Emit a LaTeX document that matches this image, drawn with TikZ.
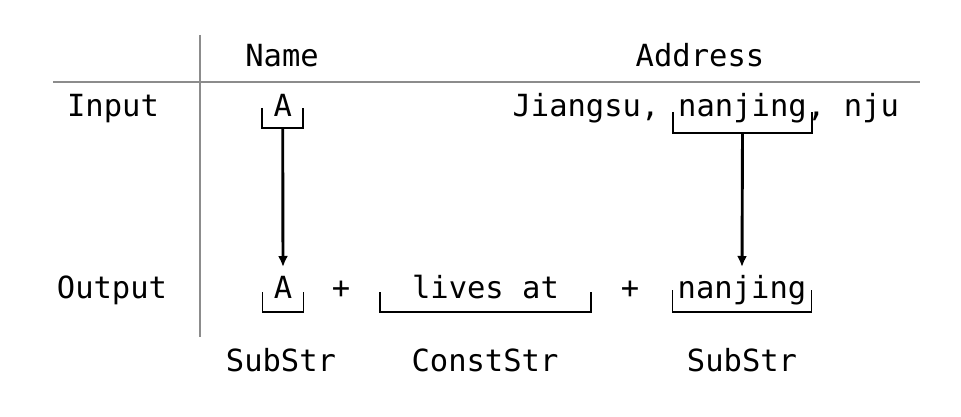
\documentclass[tikz,border=0pt]{standalone}
\usepackage{fontspec}
\setmonofont{DejaVu Sans Mono}
\usetikzlibrary{arrows.meta}
\definecolor{rulegray}{gray}{0.55}
\begin{document}
\begin{tikzpicture}[x=1pt, y=-1pt,
    every node/.style={font=\ttfamily\fontsize{30.5}{36}\selectfont, anchor=base, inner sep=0pt},
    rule/.style={rulegray, line width=2pt},
    brace/.style={black, line width=1.7pt},
    arrow/.style={black, line width=2.9pt, -{Latex[length=11pt, width=10pt]}}]
    \useasboundingbox (0,0) rectangle (961,417);

    % table rules
    \coordinate (vtop) at (200,35);
    \coordinate (vbot) at (200,337);
    \coordinate (hleft) at (53,82);
    \coordinate (hright) at (920,82);
    \draw[rule] (vtop) -- (vbot);
    \draw[rule] (hleft) -- (hright);

    % headers
    \node (name) at (282,67) {Name};
    \node (addr) at (700,67) {Address};
    \node (input) at (113,117) {Input};
    \node (output) at (112,298) {Output};

    % input row
    \node (aIn) at (282.7,117) {A};
    \node (nanjIn) at (742.5,117) {nanjing};
    \node[anchor=base east] (jiangsu) at ([xshift=-18.4pt]nanjIn.base west) {Jiangsu,};
    \node[anchor=base west] (nju) at (nanjIn.base east) {, nju};

    % output row
    \node (aOut) at (283,298) {A};
    \node (plus1) at (341,298) {+};
    \node (lives) at (485.5,298) {lives at};
    \node (plus2) at (630,298) {+};
    \node (nanjOut) at (742,298) {nanjing};

    % kinds
    \node (sub1) at (281,371) {SubStr};
    \node (const) at (485,371) {ConstStr};
    \node (sub2) at (742,371) {SubStr};

    % brackets under the pieces
    \foreach \n/\dx/\up/\dn in {aIn/11/9/11, nanjIn/5/5/16, aOut/11/6/14, lives/32/6/14, nanjOut/5/8/14}{
        \draw[brace] ([xshift=-\dx pt, yshift=\up pt]\n.base west)
            |- ([xshift=\dx pt, yshift=-\dn pt]\n.base east)
            -- ([xshift=\dx pt, yshift=\up pt]\n.base east);
    }

    \draw[arrow] ([yshift=-11pt]aIn.base) -- ([yshift=31pt]aOut.base);
    \draw[arrow] ([yshift=-16pt]nanjIn.base) -- ([yshift=31pt]nanjOut.base);

\end{tikzpicture}
\end{document}
